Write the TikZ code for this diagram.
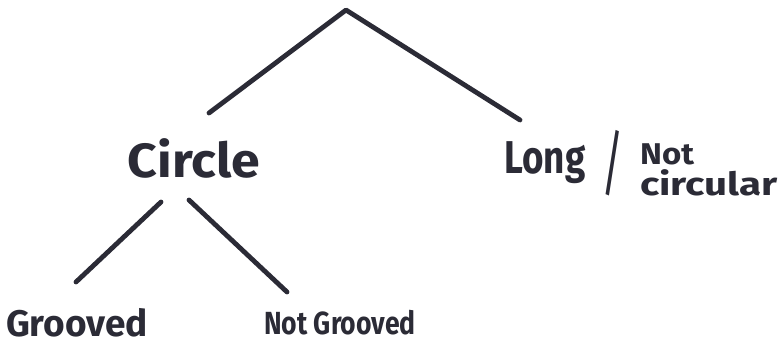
\documentclass[tikz,border=0pt]{standalone}
\usepackage{fontspec}
\usepackage{graphicx}
\setmainfont{Fira Sans}
\definecolor{ink}{HTML}{2B2B36}
\tikzset{
  branch/.style={draw=ink, line width=4.8pt, line cap=round, line join=round},
  label/.style={text=ink, inner sep=0pt, font=\bfseries},
}
\begin{document}
\begin{tikzpicture}[x=1pt,y=-1pt]
\useasboundingbox[fill=white] (0,0) rectangle (781,345);
% free ends of the branches
\coordinate (apex) at (346,10);
\coordinate (apexL) at (209,113);
\coordinate (apexR) at (520,120);
\coordinate (circL) at (161,202);
\coordinate (circLend) at (76,282);
\coordinate (circR) at (189,200);
\coordinate (circRend) at (287,292);
% labels
\node[label, font=\fontsize{48}{50}\selectfont\bfseries] (circle) at (194,158) {\scalebox{1.08}[1]{Circle}};
\node[label, font=\fontsize{46}{48}\selectfont\bfseries] (long) at (545,163) {\scalebox{0.8}[1]{Long}};
\node[label, font=\fontsize{72}{74}\selectfont] (slash) at (613,163) {\scalebox{0.6}[1]{/}};
\node[label, font=\fontsize{30}{32}\selectfont\bfseries, anchor=west] (nottext) at (640,154) {\scalebox{1.1}[1]{Not}};
\node[label, font=\fontsize{32}{34}\selectfont\bfseries, anchor=west] (circular) at (640,183) {\scalebox{1.26}[1]{circular}};
\node[label, font=\fontsize{37}{39}\selectfont\bfseries] (grooved) at (77,323) {Grooved};
\node[label, font=\fontsize{32}{34}\selectfont\bfseries] (notgrooved) at (340,323) {\scalebox{0.83}[1]{Not Grooved}};
% branches
\draw[branch] (apexL) -- (apex) -- (apexR);
\draw[branch] (circL) -- (circLend);
\draw[branch] (circR) -- (circRend);
\end{tikzpicture}
\end{document}
